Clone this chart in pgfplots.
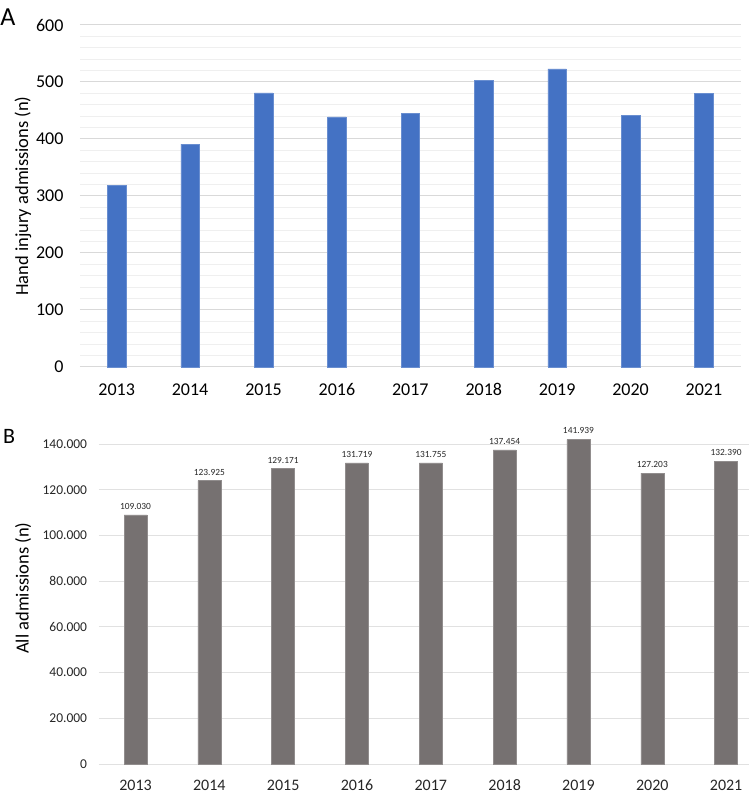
\documentclass[border=0pt]{standalone}
\usepackage{pgfplots}
\pgfplotsset{compat=1.18}
\usepackage{fontspec}
\setmainfont{Carlito}
\definecolor{barblue}{HTML}{4472C4}
\definecolor{bargray}{HTML}{767171}
\definecolor{gridmaj}{HTML}{D9D9D9}
\definecolor{gridmin}{HTML}{EFEFEF}
\definecolor{txt}{HTML}{262626}
\begin{document}
\begin{tikzpicture}[x=1pt,y=1pt]
\useasboundingbox (0,0) rectangle (749,796);
% Panel A
\begin{axis}[
  at={(80pt,429pt)}, anchor=south west,
  scale only axis, width=660.7pt, height=342pt,
  xmin=-0.5, xmax=8.5, ymin=0, ymax=600,
  ytick={0,100,...,600}, minor y tick num=4,
  xtick=data, xticklabels={2013,2014,2015,2016,2017,2018,2019,2020,2021},
  ymajorgrids, yminorgrids,
  major grid style={gridmaj, line width=1pt},
  minor grid style={gridmin, line width=1pt},
  axis line style={draw=none},
  major tick length=0pt, minor tick length=0pt,
  tick label style={font=\fontsize{18}{21}\selectfont, text=black},
  /pgf/number format/assume math mode=true,
  yticklabel style={xshift=-13pt},
  xticklabel style={yshift=-13pt},
  ylabel={Hand injury admissions (n)},
  every axis y label/.style={at={(axis description cs:-0.0863,0.5)}, rotate=90, anchor=center, font=\fontsize{18.5}{22}\selectfont},
  clip=false,
]
\addplot[ybar, bar width=18.5pt, fill=barblue, draw=barblue!80!white, line width=0.5pt] coordinates {
(0,318) (1,391) (2,481) (3,439) (4,445) (5,503) (6,523) (7,442) (8,480)};
\end{axis}
\node[font=\fontsize{26}{30}\selectfont, anchor=center] at (8,779.3) {A};
% Panel B
\begin{axis}[
  at={(98.6pt,32pt)}, anchor=south west,
  scale only axis, width=650.4pt, height=342.9pt,
  xmin=-0.5, xmax=8.31, ymin=0, ymax=150000,
  ytick={0,20000,40000,60000,80000,100000,120000,140000},
  yticklabels={0,20.000,40.000,60.000,80.000,100.000,120.000,140.000},
  scaled y ticks=false,
  xtick=data, xticklabels={2013,2014,2015,2016,2017,2018,2019,2020,2021},
  ymajorgrids,
  major grid style={gridmaj!80!white, line width=0.8pt},
  axis line style={draw=none},
  major tick length=0pt,
  yticklabel style={font=\fontsize{13.5}{16}\selectfont, text=txt, xshift=-8pt},
  xticklabel style={font=\fontsize{16}{19}\selectfont, text=txt, yshift=-12.5pt},
  ylabel={All admissions (n)},
  every axis y label/.style={at={(axis description cs:-0.116,0.513)}, rotate=90, anchor=center, font=\fontsize{18.5}{22}\selectfont},
  clip=false,
]
\addplot[ybar, bar width=23pt, fill=bargray, draw=bargray!80!white, line width=0.5pt,
  point meta=explicit symbolic,
  nodes near coords, every node near coord/.append style={font=\fontsize{9.4}{11}\selectfont, text=txt, yshift=2pt}] coordinates {
(0,109030) [109.030] (1,123925) [123.925] (2,129171) [129.171] (3,131719) [131.719] (4,131755) [131.755] (5,137454) [137.454] (6,141939) [141.939] (7,127203) [127.203] (8,132390) [132.390]};
\end{axis}
\node[font=\fontsize{22}{26}\selectfont, anchor=center] at (9.2,359.7) {B};
\end{tikzpicture}
\end{document}
